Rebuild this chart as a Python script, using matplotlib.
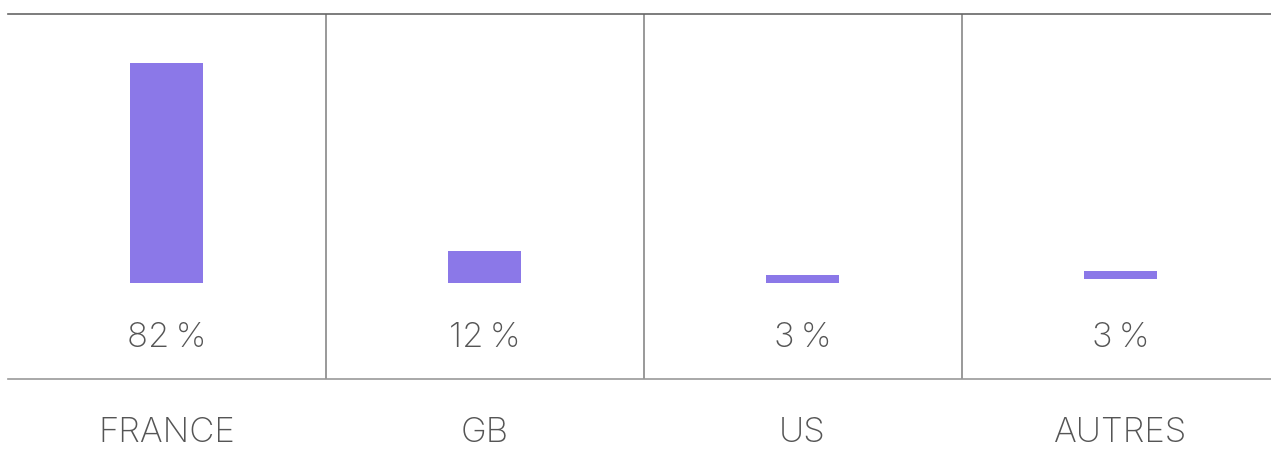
import matplotlib
matplotlib.use("Agg")
import matplotlib.pyplot as plt

# Share by country (%)
categories = ["FRANCE", "GB", "US", "AUTRES"]
values = [82, 12, 3, 3]
bottoms = [0, 0, 0, 1.5]
value_labels = ["82\u2009%", "12\u2009%", "3\u2009%", "3\u2009%"]

BAR_COLOR = "#8b78e8"
TEXT_COLOR = "#555555"

plt.rcParams["font.family"] = ["Inter", "DejaVu Sans"]

fig = plt.figure(figsize=(12.71, 4.73), dpi=100)
W, H = 1271, 473
# axes spans px 7.5..1279.5 horizontally, 13.5..379 vertically
ax = fig.add_axes([7.5 / W, 1 - 379 / H, 1272 / W, (379 - 13.5) / H])

x = list(range(len(categories)))
ax.bar(x, values, bottom=bottoms, width=0.23, color=BAR_COLOR, zorder=2)

ax.set_xlim(-0.5, len(categories) - 0.5)
ax.set_ylim(-35.8, 100.4)

for xi, lab in zip(x, value_labels):
    ax.text(xi, -20.6, lab, ha="center", va="center", fontsize=25,
            fontweight="light", color=TEXT_COLOR)
for xi, cat in zip(x, categories):
    ax.text(xi, -56.0, cat, ha="center", va="center", fontsize=25,
            fontweight="light", color=TEXT_COLOR, clip_on=False)

# column separators
for b in [0.5, 1.5, 2.5]:
    ax.axvline(b, color="#888888", lw=1.2, zorder=1)

for s in ["left", "right"]:
    ax.spines[s].set_visible(False)
ax.spines["top"].set_color("#666666")
ax.spines["top"].set_linewidth(1.2)
ax.spines["bottom"].set_color("#999999")
ax.spines["bottom"].set_linewidth(1.2)
ax.set_xticks([])
ax.set_yticks([])

fig.savefig("out.png", dpi=100)
